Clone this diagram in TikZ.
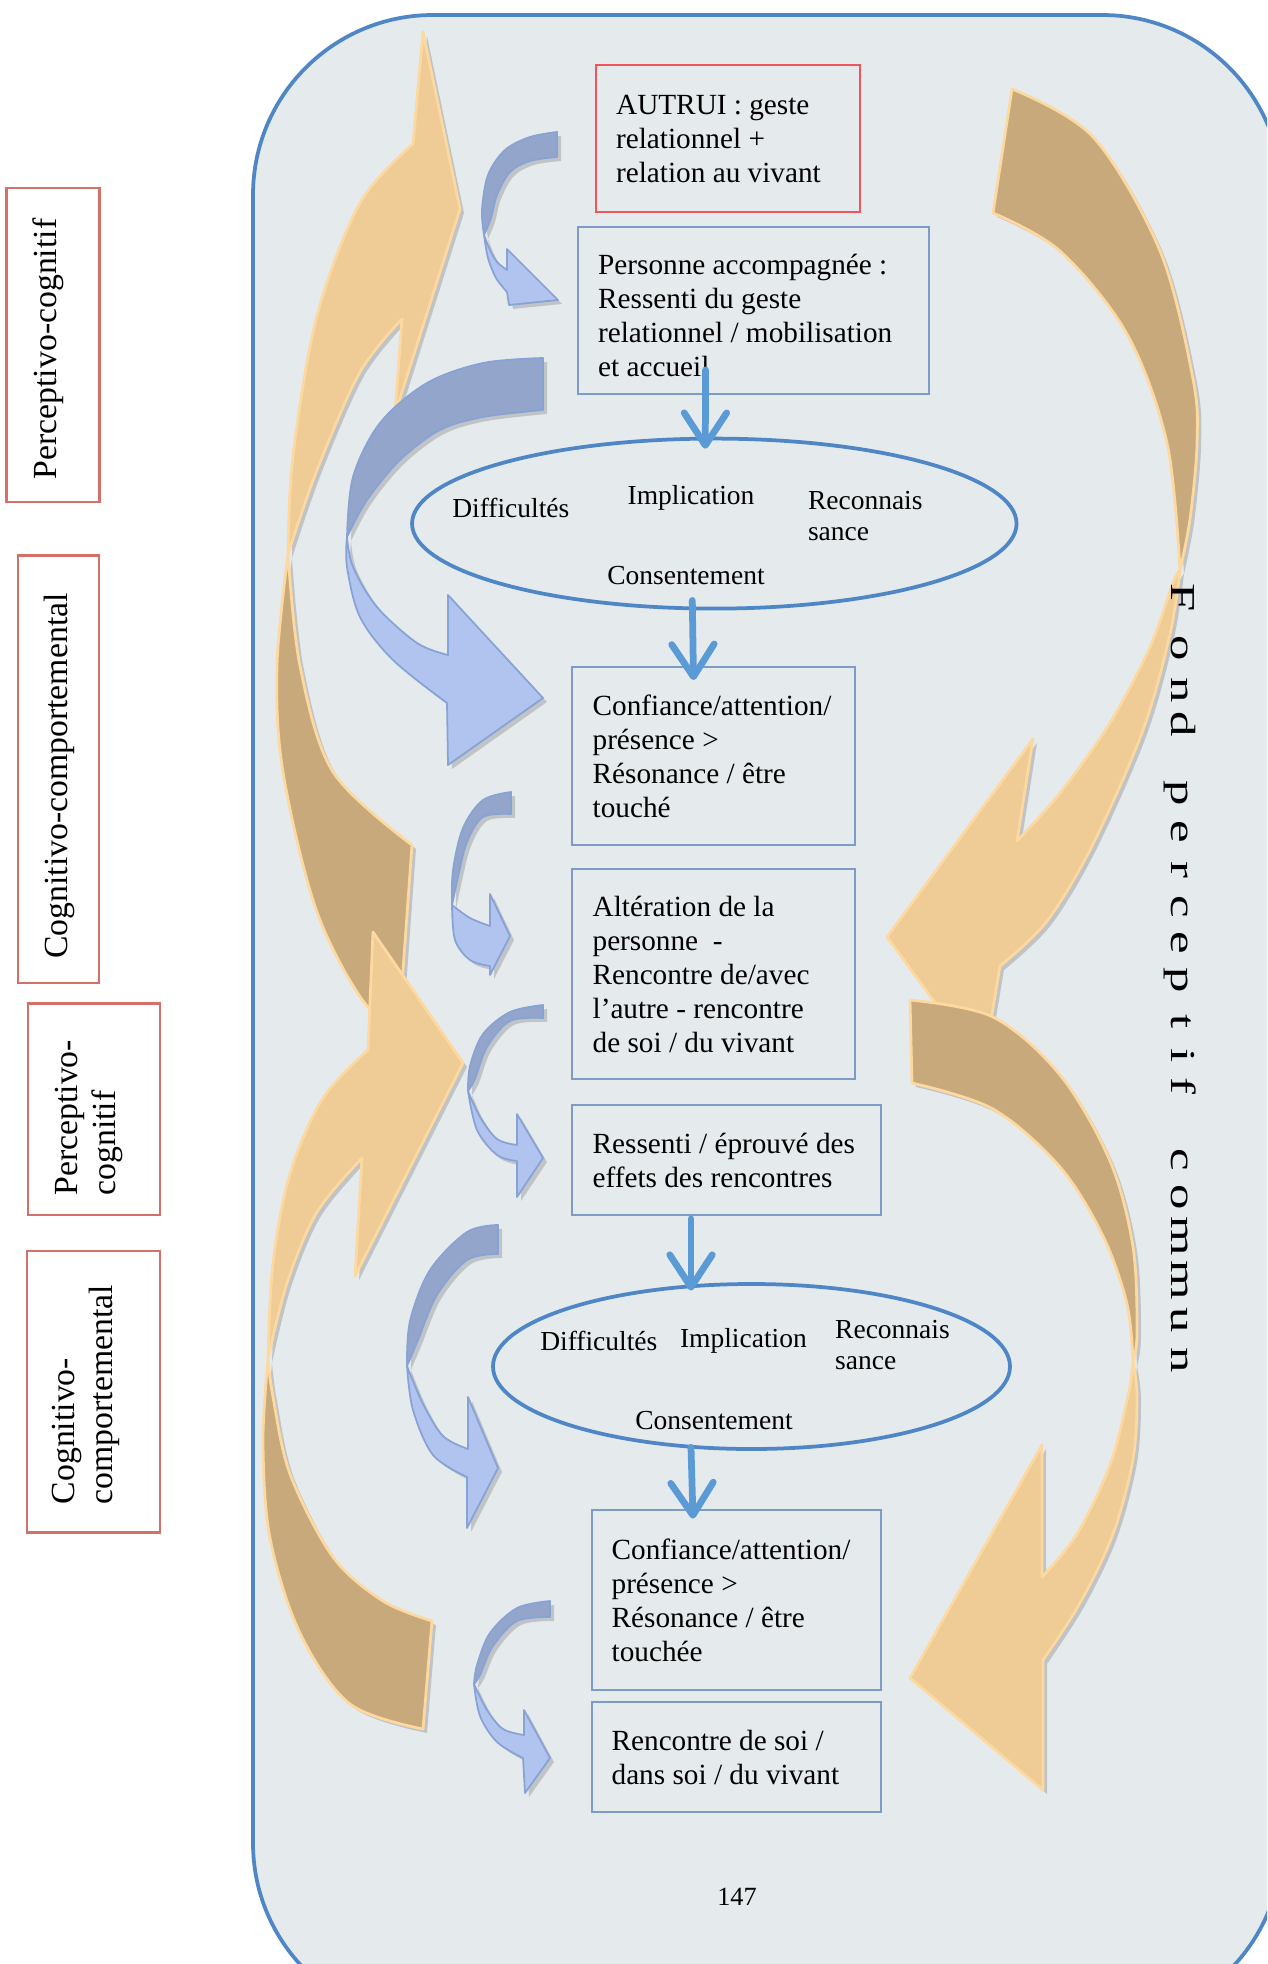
\documentclass[tikz,border=0pt]{standalone}
\usepackage{fontspec}
\setmainfont{Liberation Serif}
\usetikzlibrary{shapes.geometric,arrows.meta,calc}
\definecolor{framefill}{HTML}{E5EAED}
\definecolor{frameline}{HTML}{4F86C6}
\definecolor{tanD}{HTML}{C8A97C}
\definecolor{tanL}{HTML}{EFCB96}
\definecolor{cream}{HTML}{FDD9A0}
\definecolor{blueD}{HTML}{93A5CB}
\definecolor{blueL}{HTML}{B1C4EF}
\definecolor{blueE}{HTML}{87A3D6}
\definecolor{boxline}{HTML}{7D9CC5}
\definecolor{redline}{HTML}{F0555D}
\definecolor{labline}{HTML}{D4706A}
\definecolor{ellline}{HTML}{4F86C6}
\definecolor{connblue}{HTML}{5B9BD5}
\begin{document}
\begin{tikzpicture}[x=0.4pt,y=-0.4pt,
  shadowed/.style={preaction={fill=black,opacity=0.16,transform canvas={xshift=1.6pt,yshift=-1.6pt}}},
  obk/.style={shadowed,fill=tanD,draw=cream,line width=1.1pt,line join=round},
  ofr/.style={shadowed,fill=tanL,draw=cream,line width=1.1pt,line join=round},
  bbk/.style={shadowed,fill=blueD,draw=blueE,line width=0.7pt,line join=round},
  bfr/.style={shadowed,fill=blueL,draw=blueE,line width=0.7pt,line join=round},
  pbox/.style={draw=boxline,line width=0.7pt,inner sep=0,fill=framefill},
  rbox/.style={draw=redline,line width=1.1pt,inner sep=0,fill=framefill},
  lbox/.style={draw=labline,line width=0.9pt,inner sep=0,fill=white},
  btxt/.style={anchor=west,align=left,inner sep=0,font=\fontsize{11.7}{13.6}\selectfont},
  etxt/.style={inner sep=0,font=\fontsize{11}{12.4}\selectfont},
  ltxt/.style={rotate=90,align=left,inner sep=0,font=\fontsize{13.5}{15.5}\selectfont},
  fondl/.style={rotate=-90,anchor=base,inner sep=0,font=\fontsize{14}{14}\selectfont},
  ellshape/.style={ellipse,draw=ellline,line width=1.5pt,inner sep=0},
  conn/.style={draw=connblue,line width=2.7pt,line cap=round,-{Straight Barb[length=13pt,width=17pt,round]}},
  sm/.style={smooth,tension=0.55}
]
\useasboundingbox (0,0) rectangle (1267,1964);
\clip (0,0) rectangle (1267,1964);
\fill[white] (0,0) rectangle (1267,1964);

% main frame
\path[fill=framefill,draw=frameline,line width=1.5pt,rounded corners=72pt] (253,15) rectangle (1282,2023);

% ---- left big orange arrows ----
% L1
\path[obk] plot[sm] coordinates {(400,1012) (367,1006) (317,912) (283,772) (277,666) (288,554)}
  -- plot[sm] coordinates {(288,554) (300,666) (333,772) (412,845)} -- cycle;
\path[ofr] plot[sm] coordinates {(288,554) (293,456) (317,316) (360,203) (413,144)}
  -- (423,32) -- (460,209) -- (395,414) -- (402,319)
  -- plot[sm] coordinates {(402,319) (360,372) (317,470) (288,554)} -- cycle;
% L2
\path[obk] plot[sm] coordinates {(268,1359) (263,1442) (270,1538) (300,1633) (350,1704) (423,1729)}
  -- (432,1621)
  -- plot[sm] coordinates {(432,1621) (383,1601) (333,1557) (290,1474) (273,1397) (268,1359)} -- cycle;
\path[ofr] plot[sm] coordinates {(268,1359) (273,1263) (290,1174) (323,1098) (368,1050)}
  -- (373,932) -- (463,1063) -- (355,1276) -- (362,1158)
  -- plot[sm] coordinates {(362,1158) (317,1212) (287,1283) (268,1359)} -- cycle;

% ---- right big orange arrows ----
% R1
\path[obk] plot[sm] coordinates {(1012,89) (1093,137) (1160,251) (1193,379) (1197,443) (1190,519) (1180,570)}
  -- plot[sm] coordinates {(1180,570) (1167,443) (1127,334) (1060,251) (993,213)} -- cycle;
\path[ofr] plot[sm] coordinates {(1180,570) (1170,634) (1143,730) (1093,844) (1047,921) (1000,966)}
  -- (983,1068) -- (887,937) -- (1033,739) -- (1017,841)
  -- plot[sm] coordinates {(1017,841) (1060,793) (1110,723) (1150,647) (1173,583) (1180,570)} -- cycle;
% R2
\path[obk] plot[sm] coordinates {(910,1000) (993,1017) (1060,1075) (1110,1161) (1133,1247) (1137,1333) (1133,1362)}
  -- plot[sm] coordinates {(1133,1362) (1127,1304) (1103,1236) (1060,1167) (993,1109) (912,1083)} -- cycle;
\path[ofr] plot[sm] coordinates {(1133,1362) (1137,1396) (1133,1459) (1113,1534) (1080,1603) (1043,1660)}
  -- (1043,1790) -- (910,1678) -- (1042,1445) -- (1042,1577)
  -- plot[sm] coordinates {(1042,1577) (1077,1534) (1110,1465) (1128,1396) (1133,1362)} -- cycle;

% ---- blue curved arrows ----
% B1
\path[bbk] plot[sm] coordinates {(557,132) (530,137) (505,150) (488,175) (482,210) (484,235)}
  -- plot[sm] coordinates {(484,235) (491,218) (497,195) (510,172) (530,161) (557,157)} -- cycle;
\path[bfr] plot[sm] coordinates {(484,235) (488,258) (496,278) (507,292)}
  -- (509,305) -- (558,300) -- (507,249) -- (507,270)
  -- plot[sm] coordinates {(507,270) (497,262) (490,250) (484,235)} -- cycle;
% B2
\path[bbk] plot[sm] coordinates {(543,358) (483,363) (427,383) (380,423) (353,477) (347,537)}
  -- plot[sm] coordinates {(347,537) (367,500) (400,460) (440,430) (483,417) (543,410)} -- cycle;
\path[bfr] plot[sm] coordinates {(347,537) (347,567) (360,617) (393,660) (447,703)}
  -- (448,765) -- (543,698) -- (448,595) -- (448,655)
  -- plot[sm] coordinates {(448,655) (417,643) (377,607) (353,567) (347,537)} -- cycle;
% B3
\path[bbk] plot[sm] coordinates {(511,792) (483,800) (463,828) (453,870) (452,905)}
  -- plot[sm] coordinates {(452,905) (458,877) (467,842) (483,817) (511,814)} -- cycle;
\path[bfr] plot[sm] coordinates {(452,905) (455,940) (470,960) (490,966)}
  -- (490,975) -- (510,936) -- (490,894) -- (490,926)
  -- plot[sm] coordinates {(490,926) (470,918) (452,905)} -- cycle;
% B4
\path[bbk] plot[sm] coordinates {(543,1005) (510,1012) (483,1034) (470,1066) (468,1091)}
  -- plot[sm] coordinates {(468,1091) (475,1079) (487,1047) (510,1021) (543,1018)} -- cycle;
\path[bfr] plot[sm] coordinates {(468,1091) (477,1130) (497,1155) (517,1161)}
  -- (517,1197) -- (543,1158) -- (517,1114) -- (517,1145)
  -- plot[sm] coordinates {(517,1145) (497,1139) (480,1117) (468,1091)} -- cycle;
% B5
\path[bbk] plot[sm] coordinates {(498,1225) (467,1232) (430,1270) (410,1321) (407,1366)}
  -- plot[sm] coordinates {(407,1366) (418,1340) (437,1295) (467,1260) (498,1254)} -- cycle;
\path[bfr] plot[sm] coordinates {(407,1366) (413,1410) (433,1455) (467,1477)}
  -- (467,1528) -- (498,1468) -- (468,1397) -- (468,1449)
  -- plot[sm] coordinates {(468,1449) (443,1436) (423,1404) (407,1366)} -- cycle;
% B6
\path[bbk] plot[sm] coordinates {(550,1601) (517,1608) (490,1633) (477,1665) (474,1684)}
  -- plot[sm] coordinates {(474,1684) (480,1675) (493,1646) (517,1621) (550,1617)} -- cycle;
\path[bfr] plot[sm] coordinates {(474,1684) (480,1716) (497,1742) (523,1758)}
  -- (525,1793) -- (550,1758) -- (524,1710) -- (524,1735)
  -- plot[sm] coordinates {(524,1735) (503,1729) (487,1710) (474,1684)} -- cycle;

% ---- boxes ----
\node[rbox,minimum width=105.6pt,minimum height=58.8pt] (autrui) at (728,138.5) {};
\node[pbox,minimum width=140.4pt,minimum height=66.8pt] (personne) at (753.5,310.5) {};
\node[pbox,minimum width=113.2pt,minimum height=71.2pt] (box3) at (713.5,756) {};
\node[pbox,minimum width=113.2pt,minimum height=84pt] (box4) at (713.5,974) {};
\node[pbox,minimum width=123.6pt,minimum height=44pt] (box5) at (726.5,1160) {};
\node[pbox,minimum width=115.6pt,minimum height=72pt] (box6) at (736.5,1600) {};
\node[pbox,minimum width=115.6pt,minimum height=44.2pt] (box7) at (736.5,1757) {};

\node[btxt] (autruiT) at ([xshift=8.4pt]autrui.west) {AUTRUI : geste\\relationnel +\\relation au vivant};
\node[btxt] (personneT) at ([xshift=8.2pt,yshift=-1.8pt]personne.west) {Personne accompagnée :\\Ressenti du geste\\relationnel / mobilisation\\et accueil};
\node[btxt] (box3T) at ([xshift=8.4pt]box3.west) {Confiance/attention/\\présence >\\Résonance / être\\touché};
\node[btxt] (box4T) at ([xshift=8.4pt]box4.west) {Altération de la\\personne~~-\\Rencontre de/avec\\l’autre - rencontre\\de soi / du vivant};
\node[btxt] (box5T) at ([xshift=8.4pt]box5.west) {Ressenti / éprouvé des\\effets des rencontres};
\node[btxt] (box6T) at ([xshift=8pt]box6.west) {Confiance/attention/\\présence >\\Résonance / être\\touchée};
\node[btxt] (box7T) at ([xshift=8pt]box7.west) {Rencontre de soi /\\dans soi / du vivant};

% ---- ellipses ----
\node[ellshape,minimum width=241.8pt,minimum height=68pt] (ell1) at (714.3,523.6) {};
\node[etxt] (e1a) at (510.8,508.3) {Difficultés};
\node[etxt] (e1b) at (691,498.3) {Implication};
\node[etxt,anchor=west,align=left] (e1c) at (807.5,516.5) {Reconnais\\sance};
\node[etxt] (e1d) at (686,576) {Consentement};

\node[ellshape,minimum width=206.8pt,minimum height=66pt] (ell2) at (751.5,1366.5) {};
\node[etxt] (e2a) at (598.8,1341) {Difficultés};
\node[etxt] (e2b) at (743.4,1341) {Implication};
\node[etxt,anchor=west,align=left] (e2c) at (834.7,1344.7) {Reconnais\\sance};
\node[etxt] (e2d) at (714,1420.7) {Consentement};

% ---- straight connectors ----
\draw[conn] ($(personne.south)+(-48,-25)$) -- ($(ell1.north)+(-9,12)$);
\draw[conn] ($(ell1.south)+(-22,-10)$) -- ($(box3.north)+(-20,14)$);
\draw[conn] ($(box5.south)+(-35.5,3)$) -- ($(ell2.north)+(-60.5,8.5)$);
\draw[conn] ($(ell2.south)+(-60.5,-3.5)$) -- ($(box6.north)+(-43.5,9.5)$);

% ---- left labels ----
\node[lbox,minimum width=37.2pt,minimum height=125.5pt] (lab1) at (53,345) {};
\node[ltxt] (lab1T) at (48,349) {Perceptivo-cognitif};
\node[lbox,minimum width=32.6pt,minimum height=171pt] (lab2) at (58.6,769.3) {};
\node[ltxt] (lab2T) at (59.5,776) {Cognitivo-comportemental};
\node[lbox,minimum width=52.7pt,minimum height=84.6pt] (lab3) at (94.2,1109.3) {};
\node[ltxt] (lab3T) at (89,1117.7) {Perceptivo-\\cognitif};
\node[lbox,minimum width=53.3pt,minimum height=112.6pt] (lab4) at (93.4,1391.8) {};
\node[ltxt] (lab4T) at (86,1394.5) {Cognitivo-\\comportemental};

% ---- Fond perceptif commun ----
\node[fondl] (f1) at (1171,598) {\scalebox{1.45}[1]{F}};
\node[fondl] (f2) at (1171,648) {\scalebox{1.45}[1]{o}};
\node[fondl] (f3) at (1171,690) {\scalebox{1.45}[1]{n}};
\node[fondl] (f4) at (1171,724) {\scalebox{1.45}[1]{d}};
\node[fondl] (f5) at (1171,793) {\scalebox{1.45}[1]{p}};
\node[fondl] (f6) at (1171,832) {\scalebox{1.45}[1]{e}};
\node[fondl] (f7) at (1171,870) {\scalebox{1.45}[1]{r}};
\node[fondl] (f8) at (1171,907) {\scalebox{1.45}[1]{c}};
\node[fondl] (f9) at (1171,943) {\scalebox{1.45}[1]{e}};
\node[fondl] (f10) at (1171,980) {\scalebox{1.45}[1]{p}};
\node[fondl] (f11) at (1171,1022) {\scalebox{1.45}[1]{t}};
\node[fondl] (f12) at (1171,1056) {\scalebox{1.45}[1]{i}};
\node[fondl] (f13) at (1171,1086) {\scalebox{1.45}[1]{f}};
\node[fondl] (f14) at (1171,1160) {\scalebox{1.45}[1]{c}};
\node[fondl] (f15) at (1171,1197) {\scalebox{1.45}[1]{o}};
\node[fondl] (f16) at (1171,1236) {\scalebox{1.45}[1]{m}};
\node[fondl] (f17) at (1171,1280) {\scalebox{1.45}[1]{m}};
\node[fondl] (f18) at (1171,1320) {\scalebox{1.45}[1]{u}};
\node[fondl] (f19) at (1171,1360) {\scalebox{1.45}[1]{n}};

% page number
\node[inner sep=0,font=\fontsize{10.5}{12}\selectfont] (pnum) at (737,1897) {147};
\end{tikzpicture}
\end{document}
